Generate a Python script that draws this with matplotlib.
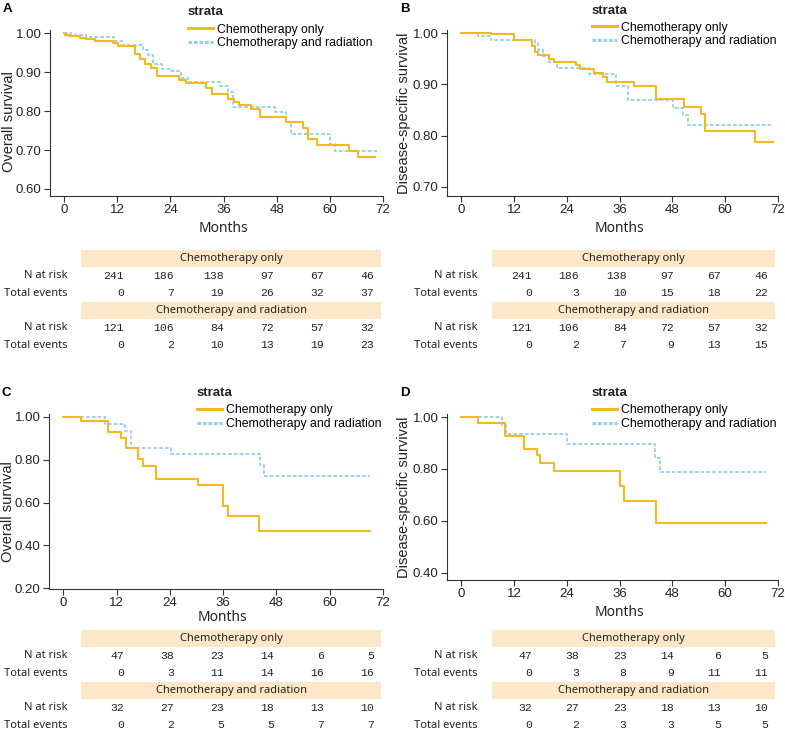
import matplotlib
matplotlib.use("Agg")
import matplotlib.pyplot as plt
from matplotlib.patches import Rectangle
from matplotlib.lines import Line2D

W, H = 785, 732

# Kaplan-Meier steps (months, survival)
a_chemo_t = [0, 0.3, 1.0, 3.5, 5.0, 7.0, 11.1, 12.1, 16.0, 17.2, 18.3, 19.7, 20.9, 25.9, 27.5, 32.1,
             33.3, 37.1, 38.3, 39.4, 42.1, 44.3, 50.0, 54.0, 55.1, 57.2, 64.4, 66.3, 70.1]
a_chemo_s = [1.0, 0.996, 0.992, 0.988, 0.984, 0.980, 0.975, 0.967, 0.946, 0.934, 0.922, 0.910, 0.890,
             0.880, 0.873, 0.860, 0.843, 0.831, 0.822, 0.815, 0.804, 0.784, 0.772, 0.756, 0.728, 0.713,
             0.698, 0.681, 0.681]
a_rad_t = [0, 1.5, 5.0, 11.2, 13.1, 17.8, 18.9, 20.1, 22.0, 24.0, 26.3, 28.0, 35.2, 37.1, 38.1, 47.6,
           50.0, 51.2, 60.1, 61.1, 70.6]
a_rad_s = [1.0, 0.995, 0.990, 0.981, 0.969, 0.956, 0.944, 0.920, 0.909, 0.903, 0.886, 0.874, 0.864,
           0.850, 0.811, 0.797, 0.771, 0.741, 0.715, 0.698, 0.698]

b_chemo_t = [0, 6.9, 12.0, 16.1, 16.8, 17.5, 19.9, 21.0, 26.0, 27.1, 30.2, 32.3, 33.2, 39.3, 44.3,
             50.7, 54.6, 55.5, 66.8, 70.9]
b_chemo_s = [1.0, 0.998, 0.986, 0.974, 0.963, 0.957, 0.950, 0.944, 0.938, 0.930, 0.923, 0.915, 0.905,
             0.896, 0.871, 0.856, 0.842, 0.809, 0.788, 0.788]
b_rad_t = [0, 3.9, 6.9, 16.8, 17.5, 18.5, 19.9, 21.8, 29.0, 35.1, 38.0, 48.1, 50.4, 51.5, 70.6]
b_rad_s = [1.0, 0.995, 0.986, 0.980, 0.967, 0.955, 0.944, 0.932, 0.920, 0.896, 0.869, 0.854, 0.840,
           0.821, 0.821]

c_chemo_t = [0, 4.0, 10.0, 13.0, 14.2, 16.8, 17.9, 20.9, 30.3, 35.9, 37.1, 44.1, 69.0]
c_chemo_s = [1.0, 0.979, 0.932, 0.902, 0.855, 0.802, 0.773, 0.712, 0.680, 0.582, 0.535, 0.465, 0.465]
c_rad_t = [0, 9.3, 14.0, 15.2, 24.3, 44.2, 45.2, 69.0]
c_rad_s = [1.0, 0.969, 0.935, 0.855, 0.825, 0.775, 0.725, 0.725]

d_chemo_t = [0, 3.9, 10.0, 14.2, 17.2, 18.0, 21.1, 36.1, 37.1, 44.3, 69.3]
d_chemo_s = [1.0, 0.977, 0.929, 0.876, 0.853, 0.824, 0.792, 0.733, 0.676, 0.590, 0.590]
d_rad_t = [0, 9.2, 10.3, 24.0, 44.1, 45.1, 69.3]
d_rad_s = [1.0, 0.968, 0.936, 0.895, 0.843, 0.788, 0.788]

# risk tables
a_chemo_n = [241, 186, 138, 97, 67, 46]
a_chemo_ev = [0, 7, 19, 26, 32, 37]
a_rad_n = [121, 106, 84, 72, 57, 32]
a_rad_ev = [0, 2, 10, 13, 19, 23]
b_chemo_ev = [0, 3, 10, 15, 18, 22]
b_rad_ev = [0, 2, 7, 9, 13, 15]
c_chemo_n = [47, 38, 23, 14, 6, 5]
c_chemo_ev = [0, 3, 11, 14, 16, 16]
c_rad_n = [32, 27, 23, 18, 13, 10]
c_rad_ev = [0, 2, 5, 5, 7, 7]
d_chemo_ev = [0, 3, 8, 9, 11, 11]
d_rad_ev = [0, 2, 3, 3, 5, 5]

groups = ["Chemotherapy only", "Chemotherapy and radiation"]
month_ticks = [0, 12, 24, 36, 48, 60, 72]

YELLOW = "#F4B920"
BLUE = "#92D0EC"
BAND = "#FCE8C9"
INK = "#222222"
SANS = ["Liberation Sans", "DejaVu Sans"]
HUMAN = ["Noto Sans", "DejaVu Sans"]
MONO = ["Liberation Mono", "DejaVu Sans Mono"]

fig = plt.figure(figsize=(W / 100, H / 100), dpi=100)


def box(x0, y0, x1, y1):
    return [x0 / W, 1 - y1 / H, (x1 - x0) / W, (y1 - y0) / H]


def panel(rect, letter, curves, ylab, ylim, yticks, ylab_pos, xlab_y, leg):
    ax = fig.add_axes(box(*rect))
    (t1, s1), (t2, s2) = curves
    ax.step(t1, s1, where="post", color=YELLOW, lw=1.5, zorder=3)
    ax.step(t2, s2, where="post", color=BLUE, lw=1.3, ls=(0, (2, 1.2)), zorder=2)
    ax.set_xlim(-3.2, 72)
    ax.set_ylim(*ylim)
    ax.set_xticks(month_ticks)
    ax.set_yticks(yticks)
    ax.set_yticklabels([f"{v:.2f}" for v in yticks])
    for s in ["top", "right"]:
        ax.spines[s].set_visible(False)
    for s in ["left", "bottom"]:
        ax.spines[s].set_color("#333333")
        ax.spines[s].set_linewidth(0.8)
    ax.tick_params(length=4, width=0.8, color="#333333", labelcolor=INK, labelsize=9.5, pad=2)
    for lab in ax.get_xticklabels() + ax.get_yticklabels():
        lab.set_family(SANS)
    ax.set_ylabel(ylab, fontsize=10.5, family=SANS, color=INK)
    ax.yaxis.set_label_coords(*ylab_pos)
    ax.set_xlabel("Months", fontsize=10, family=HUMAN, color=INK)
    ax.xaxis.set_label_coords(0.52, xlab_y)

    # legend: title as separate text, entries below
    lx, ty, fy = leg
    fig.text(lx / W, 1 - ty / H, "strata", fontsize=9.5, weight="bold", family=SANS,
             color=INK, ha="left", va="center")
    handles = [Line2D([], [], color=YELLOW, lw=2.2),
               Line2D([], [], color=BLUE, lw=2.2, ls=(0, (1.2, 0.6)))]
    ax.legend(handles, groups, loc="upper left", bbox_to_anchor=(lx / W, 1 - (fy - 7) / H),
              bbox_transform=fig.transFigure, frameon=False,
              prop={"family": SANS, "size": 8.8}, borderpad=0, borderaxespad=0,
              handlelength=2.05, handletextpad=0.35, labelspacing=0.15)

    fig.text((rect[0] - 47) / W, 1 - (rect[1] - 21) / H, letter, fontsize=9.5, weight="bold",
             family=SANS, va="center", ha="left")
    return ax


over = fig.add_axes([0, 0, 1, 1], zorder=-1)
over.set_xlim(0, W)
over.set_ylim(H, 0)
over.axis("off")


def table(x0, x1, lab_x, y0, chemo_n, chemo_ev, rad_n, rad_ev):
    step = (x1 - x0) / 6
    rows = [(groups[0], chemo_n, chemo_ev), (groups[1], rad_n, rad_ev)]
    y = y0
    for name, n, ev in rows:
        over.add_patch(Rectangle((x0, y), x1 - x0, 16.5, color=BAND, lw=0))
        over.text((x0 + x1) / 2, y + 8.5, name, ha="center", va="center", fontsize=8, family=HUMAN, color=INK)
        for j, (lab, vals) in enumerate([("N at risk", n), ("Total events", ev)]):
            yy = y + 26 + 17.5 * j
            over.text(lab_x, yy, lab, ha="right", va="center", fontsize=8, family=HUMAN, color=INK)
            for k, v in enumerate(vals):
                over.text(x0 + step * (k + 1) - 7, yy, str(v), ha="right", va="center",
                          fontsize=8.2, family=MONO, color=INK)
        y += 52


panel((50, 30, 383, 196), "A", [(a_chemo_t, a_chemo_s), (a_rad_t, a_rad_s)], "Overall survival",
      (0.582, 1.008), [0.6, 0.7, 0.8, 0.9, 1.0], (-0.102, 0.45), -0.15, (188, 12, 30.5))
panel((447, 30, 778, 196), "B", [(b_chemo_t, b_chemo_s), (b_rad_t, b_rad_s)], "Disease-specific survival",
      (0.682, 1.006), [0.7, 0.8, 0.9, 1.0], (-0.109, 0.5), -0.15, (592, 11, 28.5))
panel((49, 414, 383, 589), "C", [(c_chemo_t, c_chemo_s), (c_rad_t, c_rad_s)], "Overall survival",
      (0.196, 1.014), [0.2, 0.4, 0.6, 0.8, 1.0], (-0.102, 0.44), -0.118, (197, 393, 411))
panel((447, 414, 778, 580), "D", [(d_chemo_t, d_chemo_s), (d_rad_t, d_rad_s)], "Disease-specific survival",
      (0.372, 1.012), [0.4, 0.6, 0.8, 1.0], (-0.109, 0.5), -0.15, (592, 393, 411))

table(81, 381, 68, 250, a_chemo_n, a_chemo_ev, a_rad_n, a_rad_ev)
table(492, 775, 478, 250, a_chemo_n, b_chemo_ev, a_rad_n, b_rad_ev)
table(81, 381, 68, 630, c_chemo_n, c_chemo_ev, c_rad_n, c_rad_ev)
table(492, 775, 478, 630, c_chemo_n, d_chemo_ev, c_rad_n, d_rad_ev)

fig.savefig("out.png", dpi=100)
